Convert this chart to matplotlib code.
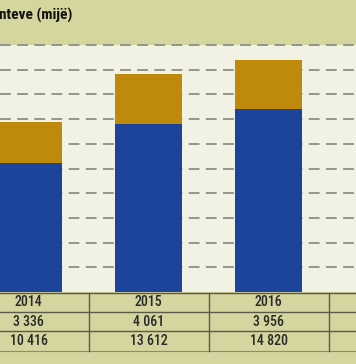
import matplotlib
matplotlib.use("Agg")
import matplotlib.pyplot as plt

years = ["2014", "2015", "2016"]
top_series = [3336, 4061, 3956]        # gold
bottom_series = [10416, 13612, 14820]  # blue
top_labels = ["3 336", "4 061", "3 956"]
bottom_labels = ["10 416", "13 612", "14 820"]
title = "nteve (mijë)"

narrow = ["Roboto Condensed", "Archivo Narrow", "DejaVu Sans"]

W, H = 356, 364
fig = plt.figure(figsize=(W / 100, H / 100), dpi=100)
olive = "#d5d5a0"
cream = "#f2f2e4"
gold = "#bf8a0c"
blue = "#1d449b"
fig.patch.set_facecolor(olive)

# plot axes: pixel y from 45 to 292
ax = fig.add_axes([0, (H - 292) / H, 1, (292 - 45) / H])
ax.set_facecolor(cream)
x = list(range(len(years)))
xl = (-28.5 / 120, (W - 28.5) / 120)
ax.set_xlim(*xl)
ax.set_ylim(0, 20000)
for v in range(2000, 20001, 2000):
    ax.axhline(v, color="#8e8e86", lw=1.3, ls=(0, (6, 3.5)), zorder=1, clip_on=False)
ax.bar(x, bottom_series, width=67 / 120, color=blue, zorder=2)
ax.bar(x, top_series, bottom=bottom_series, width=67 / 120, color=gold, zorder=2)
ax.set_xticks([])
ax.set_yticks([])
for s in ax.spines.values():
    s.set_visible(False)

# table axes: pixel y from 292 to 364
tax = fig.add_axes([0, 0, 1, (H - 292) / H])
tax.set_xlim(*xl)
tax.set_ylim(H, 292)
tax.set_facecolor(olive)
tax.axis("off")
line_c = "#5a5a4a"
for yy in [292.7, 311.7, 331]:
    tax.plot(xl, [yy, yy], color=line_c, lw=1.0)
tax.plot(xl, [351, 351], color="#8c8c70", lw=0.8)
for xv in [0.5, 1.5, 2.5]:
    tax.plot([xv, xv], [292.7, 351], color=line_c, lw=1.0)
rows = [(302.5, years), (321.5, top_labels), (341, bottom_labels)]
for yy, labels in rows:
    for xi, lab in zip(x, labels):
        tax.text(xi, yy, lab, ha="center", va="center", fontsize=10,
                 family=narrow, fontweight="medium", color="#2a2a2a")

fig.text(-0.002, 1 - 15 / H, title, ha="left", va="center", fontsize=11,
         family=narrow, fontweight="bold", color="#111111")

fig.savefig("out.png", dpi=100, facecolor=fig.get_facecolor())
